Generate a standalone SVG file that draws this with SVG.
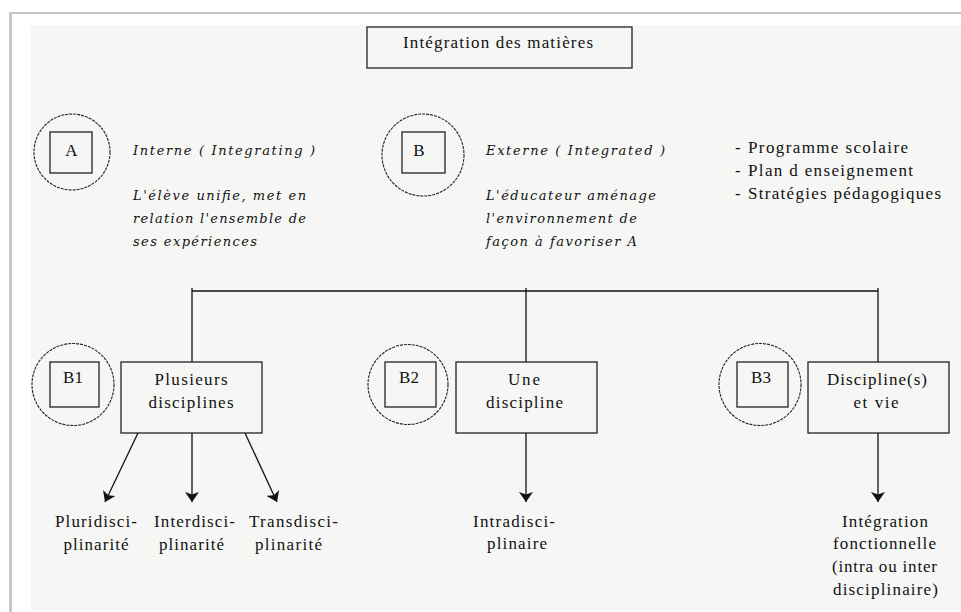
<svg xmlns="http://www.w3.org/2000/svg" width="961" height="612" viewBox="0 0 961 612">
  <defs>
    <marker id="arrow" viewBox="0 0 10 14" refX="10" refY="7" markerWidth="10" markerHeight="14" markerUnits="userSpaceOnUse" orient="auto">
      <path d="M0,0 L10,7 L0,14 L2.5,7 z" fill="#111"/>
    </marker>
  </defs>
  <style>
    text { font-family: 'Liberation Serif', 'Times New Roman', Times, serif; }
    .up { font-family: 'Liberation Serif', 'Times New Roman', Times, serif; font-size: 17px; fill: #111; }
    .it { font-family: 'DejaVu Serif', 'Liberation Serif', serif; font-style: italic; font-size: 13px; fill: #111; }
    .mid { text-anchor: middle; }
    .box { fill: none; stroke: #222; stroke-width: 1.3; }
    .circ { fill: none; stroke: #222; stroke-width: 1.1; stroke-dasharray: 3 1; }
    .line { fill: none; stroke: #111; stroke-width: 1.3; }
  </style>

  <rect x="0" y="0" width="961" height="612" fill="#ffffff"/>
  <rect x="31" y="25" width="930" height="586" fill="#f6f7f5"/>
  <line x1="9" y1="13" x2="961" y2="13" stroke="#c4c4c4" stroke-width="2"/>
  <line x1="10.5" y1="12" x2="10.5" y2="612" stroke="#c8c8c8" stroke-width="3"/>

  <g id="title">
    <rect class="box" x="367" y="27" width="265" height="41"/>
    <text class="up mid" x="498" y="48" font-family="Liberation Serif, serif" textLength="190" lengthAdjust="spacing">Intégration des matières</text>
  </g>

  <g id="A">
    <circle class="circ" cx="72" cy="152" r="38"/>
    <rect class="box" x="50" y="132" width="42" height="41"/>
    <text class="up mid" x="71.5" y="156" font-family="Liberation Serif, serif">A</text>
  </g>
  <g id="A-text" font-family="DejaVu Serif, serif">
    <text class="it" x="133" y="155" textLength="182" lengthAdjust="spacing">Interne ( Integrating )</text>
    <text class="it" x="133" y="200" textLength="173" lengthAdjust="spacing">L'élève unifie, met en</text>
    <text class="it" x="133" y="223" textLength="173" lengthAdjust="spacing">relation l'ensemble de</text>
    <text class="it" x="133" y="246" textLength="124" lengthAdjust="spacing">ses expériences</text>
  </g>

  <g id="B">
    <circle class="circ" cx="423" cy="155" r="41"/>
    <rect class="box" x="402" y="132" width="43" height="41"/>
    <text class="up mid" x="419" y="156" font-family="Liberation Serif, serif">B</text>
  </g>
  <g id="B-text">
    <text class="it" x="486" y="155" textLength="179" lengthAdjust="spacing">Externe ( Integrated )</text>
    <text class="it" x="486" y="200" textLength="170" lengthAdjust="spacing">L'éducateur aménage</text>
    <text class="it" x="486" y="223" textLength="151" lengthAdjust="spacing">l'environnement de</text>
    <text class="it" x="486" y="246" textLength="151" lengthAdjust="spacing">façon à favoriser A</text>
  </g>

  <g id="list">
    <text class="up" x="735" y="153">-</text>
    <text class="up" x="748" y="153" textLength="160" lengthAdjust="spacing">Programme scolaire</text>
    <text class="up" x="735" y="176">-</text>
    <text class="up" x="748" y="176" textLength="165" lengthAdjust="spacing">Plan d enseignement</text>
    <text class="up" x="735" y="199">-</text>
    <text class="up" x="748" y="199" textLength="193" lengthAdjust="spacing">Stratégies pédagogiques</text>
  </g>

  <g id="connectors">
    <line class="line" x1="192" y1="291" x2="878" y2="291"/>
    <line class="line" x1="192" y1="288" x2="192" y2="362"/>
    <line class="line" x1="526" y1="288" x2="526" y2="362"/>
    <line class="line" x1="878" y1="288" x2="878" y2="362"/>
    <line class="line" x1="138" y1="433" x2="105" y2="502" marker-end="url(#arrow)"/>
    <line class="line" x1="192" y1="433" x2="192" y2="502" marker-end="url(#arrow)"/>
    <line class="line" x1="245" y1="433" x2="277" y2="502" marker-end="url(#arrow)"/>
    <line class="line" x1="526" y1="433" x2="526" y2="502" marker-end="url(#arrow)"/>
    <line class="line" x1="878" y1="433" x2="878" y2="502" marker-end="url(#arrow)"/>
  </g>

  <g id="B1">
    <circle class="circ" cx="73" cy="384.5" r="41"/>
    <rect class="box" x="50" y="362" width="49" height="45"/>
    <text class="up mid" x="73" y="383">B1</text>
  </g>
  <g id="B1-box">
    <rect class="box" x="121" y="362" width="141" height="71"/>
    <text class="up mid" x="191" y="385" textLength="73" lengthAdjust="spacing">Plusieurs</text>
    <text class="up mid" x="191" y="408" textLength="85" lengthAdjust="spacing">disciplines</text>
  </g>

  <g id="B2">
    <circle class="circ" cx="408" cy="384.5" r="40"/>
    <rect class="box" x="385" y="362" width="51" height="45"/>
    <text class="up mid" x="409" y="383">B2</text>
  </g>
  <g id="B2-box">
    <rect class="box" x="456" y="362" width="141" height="71"/>
    <text class="up mid" x="524" y="385" textLength="32" lengthAdjust="spacing">Une</text>
    <text class="up mid" x="524.5" y="408" textLength="77" lengthAdjust="spacing">discipline</text>
  </g>

  <g id="B3">
    <circle class="circ" cx="760" cy="384.5" r="41"/>
    <rect class="box" x="737" y="362" width="51" height="45"/>
    <text class="up mid" x="761" y="383">B3</text>
  </g>
  <g id="B3-box">
    <rect class="box" x="808" y="362" width="141" height="71"/>
    <text class="up mid" x="877" y="385" textLength="100" lengthAdjust="spacing">Discipline(s)</text>
    <text class="up mid" x="876" y="408" textLength="45" lengthAdjust="spacing">et vie</text>
  </g>

  <g id="pluri">
    <text class="up mid" x="96" y="527" textLength="82" lengthAdjust="spacing">Pluridisci-</text>
    <text class="up mid" x="96" y="550" textLength="65" lengthAdjust="spacing">plinarité</text>
  </g>
  <g id="inter">
    <text class="up mid" x="194.5" y="527" textLength="81" lengthAdjust="spacing">Interdisci-</text>
    <text class="up mid" x="191.5" y="550" textLength="65" lengthAdjust="spacing">plinarité</text>
  </g>
  <g id="trans">
    <text class="up mid" x="293.5" y="527" textLength="89" lengthAdjust="spacing">Transdisci-</text>
    <text class="up mid" x="288.5" y="550" textLength="67" lengthAdjust="spacing">plinarité</text>
  </g>
  <g id="intra">
    <text class="up mid" x="514" y="527" textLength="82" lengthAdjust="spacing">Intradisci-</text>
    <text class="up mid" x="517" y="549" textLength="60" lengthAdjust="spacing">plinaire</text>
  </g>
  <g id="fonct">
    <text class="up mid" x="885" y="527" textLength="86" lengthAdjust="spacing">Intégration</text>
    <text class="up mid" x="884.5" y="549" textLength="103" lengthAdjust="spacing">fonctionnelle</text>
    <text class="up mid" x="884.5" y="572" textLength="105" lengthAdjust="spacing">(intra ou inter</text>
    <text class="up mid" x="885.5" y="595" textLength="105" lengthAdjust="spacing">disciplinaire)</text>
  </g>
</svg>
